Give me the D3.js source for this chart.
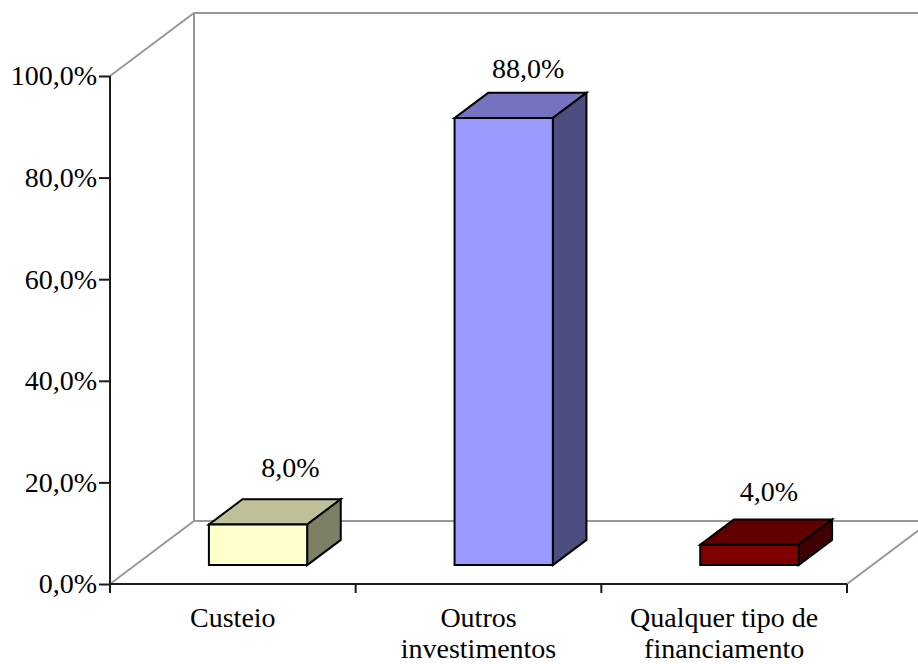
<!DOCTYPE html>
<html>
<head>
<meta charset="utf-8">
<script src="https://cdnjs.cloudflare.com/ajax/libs/d3/7.8.5/d3.min.js"></script>
<style>
html, body { margin: 0; padding: 0; background: #fff; }
svg { display: block; }
text { font-family: "Liberation Serif", serif; fill: #000; }
</style>
</head>
<body>
<svg id="chart" width="918" height="664"></svg>
<script>
// Budget use by category, drawn as a 3D column chart
const categories = ["Custeio", "Outros investimentos", "Qualquer tipo de financiamento"];
const categoryLines = [["Custeio"], ["Outros", "investimentos"], ["Qualquer tipo de", "financiamento"]];
const shares = [8, 88, 4];
const valueLabels = ["8,0%", "88,0%", "4,0%"];
const yTicks = [0, 20, 40, 60, 80, 100];
const frontColors = ["#ffffcc", "#9999ff", "#800000"];
const topColors = ["#bfbf99", "#7373bf", "#600000"];
const sideColors = ["#7f7f66", "#4d4d80", "#400000"];

// Hand placement of the value labels relative to each column's top
const labelShiftX = [32.5, 24.5, 19.5];
const labelShiftY = [-22, -15, -19];

const fontSize = 28;
const wallColor = "#999999";
const axisColor = "#1a1a1a";

const svg = d3.select("#chart");
const x = d3.scaleBand().domain(categories).range([110, 847]);
const y = d3.scaleLinear().domain([0, 100]).range([584, 76]);

// Oblique projection: depth runs from 0 (front plane) to 1 (back wall)
const depth = d3.scaleLinear().domain([0, 1]).range([0, 84]);
const lift = d3.scaleLinear().domain([0, 1]).range([0, 63]);
const project = (px, py, d) => [px + depth(d), py - lift(d)];
const line = d3.line();

const [x0, x1] = x.range();
const [y0, y1] = y.range();

// Back wall and floor outline
const wall = [
  [project(x0, y1, 0), project(x0, y1, 1), [918, y1 - lift(1)]],
  [project(x0, y1, 1), project(x0, y0, 1)],
  [project(x0, y0, 0), project(x0, y0, 1), [918, y0 - lift(1)]],
  [project(x1, y0, 0), project(x1, y0, 1)]
];
svg.append("g").selectAll("path").data(wall).join("path")
  .attr("d", line).attr("fill", "none")
  .attr("stroke", wallColor).attr("stroke-width", 2);

// Columns sit between 0.3 and 0.7 of the floor depth
const dFront = 0.3, dBack = 0.7;
const barWidth = x.bandwidth() * 0.4;
const bars = svg.append("g").selectAll("g").data(categories).join("g");
const barLeft = c => x(c) + (x.bandwidth() - barWidth) / 2;
const closed = d3.line().curve(d3.curveLinearClosed);

function face(g, points, fill) {
  g.append("path")
    .attr("d", closed(points))
    .attr("fill", fill).attr("stroke", "#000").attr("stroke-width", 2)
    .attr("stroke-linejoin", "miter");
}

bars.each(function (c, i) {
  const g = d3.select(this);
  const l = barLeft(c), r = l + barWidth;
  const top = y(shares[i]);
  const a = (px, py) => project(px, py, dFront);
  const b = (px, py) => project(px, py, dBack);
  face(g, [a(l, top), a(r, top), b(r, top), b(l, top)], topColors[i]);
  face(g, [a(r, y0), b(r, y0), b(r, top), a(r, top)], sideColors[i]);
  face(g, [a(l, y0), a(r, y0), a(r, top), a(l, top)], frontColors[i]);
});

// Value labels above each column
svg.append("g").selectAll("text").data(categories).join("text")
  .attr("x", (c, i) => project(barLeft(c) + barWidth / 2, 0, dFront)[0] + labelShiftX[i])
  .attr("y", (c, i) => project(0, y(shares[i]), dBack)[1] + labelShiftY[i])
  .attr("text-anchor", "middle")
  .attr("font-size", fontSize)
  .text((c, i) => valueLabels[i]);

// Value axis
const yAxis = d3.axisLeft(y).tickValues(yTicks).tickSize(11)
  .tickFormat(v => d3.format(".1f")(v).replace(".", ",") + "%");
const yg = svg.append("g").attr("transform", `translate(${x0},0)`).call(yAxis);
yg.select(".domain").attr("stroke", axisColor).attr("stroke-width", 2).attr("d", `M0,${y1}V${y0}`);
yg.selectAll(".tick line").attr("stroke", axisColor).attr("stroke-width", 2);
yg.selectAll(".tick text").attr("font-size", fontSize).attr("font-family", "Liberation Serif")
  .attr("x", -13).attr("dy", "0.32em");

// Category axis with separators between bands
const xEdges = categories.map(c => x(c)).concat(x1);
const xg = svg.append("g");
xg.append("path").attr("d", `M${x0},${y0}H${x1}`).attr("stroke", axisColor).attr("stroke-width", 2);
xg.selectAll("line").data(xEdges).join("line")
  .attr("x1", d => d).attr("x2", d => d).attr("y1", y0).attr("y2", y0 + 9)
  .attr("stroke", axisColor).attr("stroke-width", 2);

xg.selectAll("text").data(categories).join("text")
  .attr("x", c => x(c) + x.bandwidth() / 2)
  .attr("y", 627)
  .attr("text-anchor", "middle")
  .attr("font-size", fontSize)
  .each(function (c, i) {
    d3.select(this).selectAll("tspan").data(categoryLines[i]).join("tspan")
      .attr("x", x(c) + x.bandwidth() / 2)
      .attr("dy", (d, k) => k ? 30.5 : 0)
      .text(d => d);
  });
</script>
</body>
</html>
